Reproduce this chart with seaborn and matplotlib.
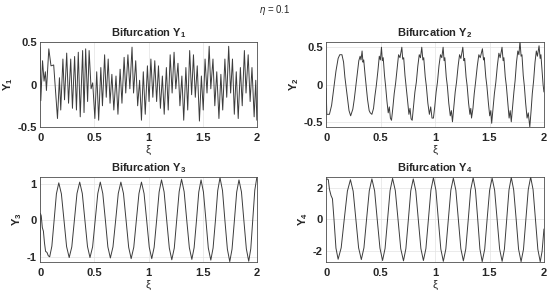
import pandas as pd
import seaborn as sns
import matplotlib.pyplot as plt

# values (extrema plus a few points in between)
xi_y1 = [0.000, 0.006, 0.022, 0.036, 0.048, 0.058, 0.080, 0.100, 0.125, 0.160,
         0.178, 0.190, 0.210, 0.225, 0.245, 0.262, 0.282, 0.298, 0.318, 0.335,
         0.352, 0.370, 0.392, 0.405, 0.420, 0.438, 0.452, 0.470, 0.485, 0.505,
         0.522, 0.540, 0.560, 0.575, 0.595, 0.610, 0.628, 0.645, 0.662, 0.680,
         0.700, 0.718, 0.738, 0.755, 0.775, 0.790, 0.810, 0.828, 0.848, 0.862,
         0.882, 0.900, 0.918, 0.935, 0.952, 0.970, 0.990, 1.005, 1.022, 1.040,
         1.058, 1.075, 1.092, 1.110, 1.128, 1.145, 1.165, 1.182, 1.200, 1.218,
         1.236, 1.252, 1.272, 1.290, 1.308, 1.325, 1.345, 1.362, 1.380, 1.398,
         1.415, 1.432, 1.450, 1.470, 1.488, 1.505, 1.522, 1.540, 1.560, 1.575,
         1.595, 1.612, 1.630, 1.650, 1.668, 1.685, 1.705, 1.722, 1.740, 1.758,
         1.775, 1.792, 1.810, 1.828, 1.848, 1.865, 1.885, 1.900, 1.920, 1.938,
         1.955, 1.975, 1.990, 2.000]
y1 = [0.44, -0.19, 0.28, 0.04, 0.15, -0.07, 0.42, 0.22, 0.23, -0.40,
      0.08, -0.30, 0.30, -0.18, 0.37, -0.22, 0.30, -0.28, 0.33, -0.30,
      0.38, -0.38, 0.40, -0.33, 0.42, -0.20, 0.40, -0.05, 0.02, -0.40,
      0.15, -0.42, 0.20, -0.25, 0.35, -0.15, 0.30, -0.22, 0.12, -0.30,
      0.10, -0.35, 0.18, -0.22, 0.32, -0.10, 0.35, -0.05, 0.44, -0.10,
      0.28, -0.25, 0.05, -0.42, 0.15, -0.35, 0.22, -0.20, 0.30, -0.15,
      0.28, -0.20, 0.22, -0.28, 0.10, -0.35, 0.20, -0.30, 0.35, -0.10,
      0.38, -0.05, 0.25, -0.25, 0.10, -0.42, 0.20, -0.30, 0.40, -0.12,
      0.35, -0.15, 0.22, -0.43, 0.10, -0.30, 0.30, -0.10, 0.45, -0.05,
      0.30, -0.25, 0.15, -0.40, 0.12, -0.30, 0.30, -0.15, 0.45, -0.10,
      0.30, -0.35, 0.15, -0.40, 0.20, -0.25, 0.40, -0.10, 0.35, -0.20,
      0.20, -0.38, 0.05, -0.42]

xi_y2 = [0.000, 0.006, 0.030, 0.050, 0.070, 0.090, 0.110, 0.125, 0.145, 0.160,
         0.172, 0.182, 0.195, 0.210, 0.225,
         0.245, 0.258, 0.270, 0.285, 0.300, 0.312, 0.320, 0.330, 0.338, 0.345,
         0.358, 0.368, 0.380, 0.395, 0.405, 0.420,
         0.435, 0.448, 0.460, 0.475, 0.488, 0.498, 0.508, 0.516, 0.524, 0.536,
         0.546, 0.558, 0.570, 0.580, 0.590, 0.600,
         0.612, 0.625, 0.638, 0.652, 0.665, 0.678, 0.695, 0.703, 0.712, 0.724,
         0.734, 0.748, 0.760, 0.770, 0.780, 0.790,
         0.802, 0.815, 0.828, 0.842, 0.855, 0.866, 0.878, 0.888, 0.896, 0.910,
         0.920, 0.934, 0.948, 0.960, 0.972, 0.985,
         0.997, 1.010, 1.022, 1.036, 1.050, 1.062, 1.074, 1.083, 1.090, 1.103,
         1.113, 1.126, 1.140, 1.150, 1.160,
         1.172, 1.185, 1.197, 1.212, 1.225, 1.237, 1.255, 1.265, 1.272, 1.285,
         1.295, 1.308, 1.320, 1.328, 1.335,
         1.348, 1.360, 1.372, 1.388, 1.402, 1.415, 1.435, 1.445, 1.452, 1.466,
         1.476, 1.490, 1.502, 1.512, 1.520,
         1.532, 1.545, 1.558, 1.572, 1.586, 1.598, 1.615, 1.625, 1.632, 1.645,
         1.655, 1.668, 1.680, 1.690, 1.700,
         1.712, 1.724, 1.735, 1.748, 1.760, 1.770, 1.780, 1.790, 1.798, 1.810,
         1.820, 1.832, 1.845, 1.856, 1.870,
         1.882, 1.893, 1.905, 1.918, 1.930, 1.940, 1.955, 1.965, 1.972, 1.985,
         1.992, 2.000]
y2 = [-0.05, -0.40, -0.40, -0.28, -0.05, 0.18, 0.35, 0.40, 0.40, 0.30,
      0.10, -0.02, -0.18, -0.35, -0.42,
      -0.33, -0.20, -0.05, 0.15, 0.32, 0.38, 0.33, 0.45, 0.30, 0.33,
      0.12, -0.02, -0.20, -0.35, -0.38, -0.40,
      -0.32, -0.15, -0.02, 0.18, 0.38, 0.33, 0.50, 0.32, 0.36, 0.12,
      -0.02, -0.22, -0.38, -0.30, -0.45, -0.48,
      -0.32, -0.12, 0.02, 0.22, 0.40, 0.36, 0.50, 0.34, 0.36, 0.12,
      -0.02, -0.22, -0.40, -0.32, -0.46, -0.48,
      -0.30, -0.10, 0.03, 0.25, 0.40, 0.36, 0.50, 0.33, 0.36, 0.10,
      -0.02, -0.25, -0.40, -0.30, -0.45, -0.45,
      -0.30, -0.10, 0.03, 0.25, 0.40, 0.36, 0.50, 0.32, 0.36, 0.10,
      -0.02, -0.25, -0.42, -0.35, -0.50,
      -0.30, -0.10, 0.03, 0.25, 0.40, 0.35, 0.50, 0.32, 0.35, 0.10,
      -0.02, -0.25, -0.40, -0.32, -0.45,
      -0.32, -0.12, 0.03, 0.25, 0.40, 0.36, 0.48, 0.33, 0.36, 0.10,
      -0.02, -0.25, -0.42, -0.35, -0.52,
      -0.32, -0.12, 0.03, 0.25, 0.42, 0.36, 0.50, 0.32, 0.36, 0.10,
      -0.02, -0.25, -0.45, -0.35, -0.50,
      -0.30, -0.10, 0.05, 0.30, 0.45, 0.40, 0.58, 0.38, 0.40, 0.12,
      -0.02, -0.25, -0.45, -0.38, -0.57,
      -0.35, -0.12, 0.05, 0.30, 0.45, 0.38, 0.52, 0.35, 0.40, 0.15,
      0.00, -0.10]

xi_y3 = [0.000, 0.003, 0.010, 0.020, 0.030, 0.040, 0.050, 0.063, 0.075, 0.088,
         0.108, 0.129, 0.150, 0.172, 0.196, 0.220, 0.244, 0.268, 0.292, 0.316,
         0.340, 0.365, 0.389, 0.413, 0.437, 0.460, 0.484, 0.508, 0.532, 0.555,
         0.578, 0.602, 0.625, 0.648, 0.672, 0.697, 0.721, 0.745, 0.769, 0.793,
         0.817, 0.840, 0.864, 0.888, 0.912, 0.935, 0.959, 0.983, 1.007, 1.030,
         1.052, 1.075, 1.098, 1.120, 1.144, 1.168, 1.192, 1.215, 1.238, 1.260,
         1.283, 1.305, 1.329, 1.353, 1.377, 1.400, 1.421, 1.443, 1.464, 1.485,
         1.507, 1.530, 1.552, 1.575, 1.596, 1.618, 1.639, 1.660, 1.683, 1.705,
         1.728, 1.750, 1.771, 1.793, 1.814, 1.835, 1.858, 1.880, 1.903, 1.925,
         1.944, 1.962, 1.981, 2.000]
y3 = [-0.95, 0.18, 0.12, -0.20, -0.30, -0.62, -0.85, -0.88, -0.97, -1.00,
      -0.71, 0.00, 0.72, 1.02, 0.72, 0.00, -0.72, -1.02, -0.73, 0.00,
      0.73, 1.04, 0.73, 0.00, -0.72, -1.02, -0.73, 0.00, 0.73, 1.04,
      0.73, 0.00, -0.73, -1.03, -0.73, 0.00, 0.73, 1.04, 0.73, 0.00,
      -0.74, -1.05, -0.74, 0.00, 0.73, 1.04, 0.73, 0.00, -0.74, -1.05,
      -0.74, 0.00, 0.77, 1.10, 0.77, 0.00, -0.76, -1.08, -0.76, 0.00,
      0.78, 1.12, 0.78, 0.00, -0.75, -1.07, -0.75, 0.00, 0.77, 1.10,
      0.77, 0.00, -0.76, -1.09, -0.76, 0.00, 0.81, 1.16, 0.81, 0.00,
      -0.79, -1.13, -0.79, 0.00, 0.77, 1.10, 0.77, 0.00, -0.78, -1.12,
      -0.78, 0.00, 0.82, 1.17]

xi_y4 = [0.000, 0.008, 0.020, 0.030, 0.045, 0.058, 0.072, 0.090, 0.110, 0.138,
         0.166, 0.195, 0.223, 0.248, 0.273, 0.298, 0.323, 0.347, 0.371, 0.396,
         0.420, 0.445, 0.469, 0.494, 0.518, 0.541, 0.564, 0.587, 0.610, 0.635,
         0.660, 0.685, 0.710, 0.732, 0.755, 0.777, 0.800, 0.823, 0.846, 0.870,
         0.893, 0.916, 0.939, 0.962, 0.985, 1.008, 1.030, 1.053, 1.076, 1.099,
         1.122, 1.145, 1.168, 1.191, 1.214, 1.237, 1.260, 1.282, 1.305, 1.327,
         1.350, 1.371, 1.392, 1.412, 1.433, 1.456, 1.478, 1.501, 1.524, 1.547,
         1.570, 1.593, 1.616, 1.637, 1.658, 1.679, 1.700, 1.722, 1.745, 1.767,
         1.790, 1.812, 1.834, 1.856, 1.878, 1.900, 1.922, 1.944, 1.966, 1.983,
         2.000]
y4 = [2.50, 2.55, 2.50, 1.90, 1.50, 1.30, 0.00, -1.80, -2.50, -1.78,
      0.00, 1.78, 2.50, 1.78, 0.00, -1.78, -2.52, -1.78, 0.00, 1.80,
      2.55, 1.80, 0.00, -1.80, -2.58, -1.82, 0.00, 1.82, 2.58, 1.82,
      0.00, -1.84, -2.60, -1.84, 0.00, 1.80, 2.55, 1.80, 0.00, -1.83,
      -2.58, -1.83, 0.00, 1.84, 2.62, 1.84, 0.00, -1.86, -2.63, -1.86,
      0.00, 1.84, 2.60, 1.84, 0.00, -1.84, -2.60, -1.86, 0.00, 1.85,
      2.62, 1.85, 0.00, -1.86, -2.65, -1.86, 0.00, 1.84, 2.60, 1.84,
      0.00, -1.86, -2.63, -1.86, 0.00, 1.86, 2.64, 1.86, 0.00, -1.87,
      -2.65, -1.88, 0.00, 1.88, 2.66, 1.88, 0.00, -1.88, -2.66, -2.00,
      -0.60]

panels = [
    (xi_y1, y1, 1, (-0.5, 0.5), [-0.5, 0, 0.5], ['-0.5', '0', '0.5']),
    (xi_y2, y2, 2, (-0.57, 0.57), [-0.5, 0, 0.5], ['-0.5', '0', '0.5']),
    (xi_y3, y3, 3, (-1.14, 1.18), [-1, 0, 1], ['-1', '0', '1']),
    (xi_y4, y4, 4, (-2.67, 2.67), [-2, 0, 2], ['-2', '0', '2']),
]
xticks = [0, 0.5, 1, 1.5, 2]
xticklabels = ['0', '0.5', '1', '1.5', '2']

sns.set_style('whitegrid')
plt.rcParams['font.family'] = ['Liberation Sans', 'DejaVu Sans']
plt.rcParams['mathtext.fontset'] = 'custom'
plt.rcParams['mathtext.rm'] = 'Liberation Sans'
plt.rcParams['mathtext.it'] = 'Liberation Sans:italic'
plt.rcParams['mathtext.bf'] = 'Liberation Sans:bold'

fig = plt.figure(figsize=(5.5, 2.94), dpi=100)
boxes = [[0.073, 0.568, 0.394, 0.289], [0.593, 0.568, 0.396, 0.289],
         [0.073, 0.109, 0.394, 0.289], [0.593, 0.109, 0.396, 0.289]]

for box, (xs, ys, k, lim, yt, ytl) in zip(boxes, panels):
    ax = fig.add_axes(box)
    df = pd.DataFrame({'xi': xs, 'y': ys})
    sns.lineplot(data=df, x='xi', y='y', ax=ax, estimator=None, sort=False,
                 color='#3c3c3c', linewidth=0.7)
    ax.set_xlim(0, 2)
    ax.set_ylim(*lim)
    ax.set_xticks(xticks)
    ax.set_xticklabels(xticklabels, fontsize=8, fontweight='bold')
    ax.set_yticks(yt)
    ax.set_yticklabels(ytl, fontsize=8, fontweight='bold')
    ax.tick_params(axis='x', direction='in', length=2, width=0.5, pad=4,
                   colors='#262626')
    ax.tick_params(axis='y', direction='in', length=2, width=0.5, pad=2.5,
                   colors='#262626')
    ax.grid(True, color='#e3e3e3', linewidth=0.5)
    for s in ax.spines.values():
        s.set_visible(True)
        s.set_color('#4d4d4d')
        s.set_linewidth(0.6)
    ax.set_title('Bifurcation Y$_{\\mathbf{%d}}$' % k, fontsize=8,
                 fontweight='bold', pad=4)
    ax.set_ylabel('Y$_{\\mathbf{%d}}$' % k, fontsize=8, fontweight='bold',
                  labelpad=2)
    ax.set_xlabel('\u03be', fontsize=8, labelpad=2)

fig.text(0.5, 0.965, '$\\eta$ = 0.1', ha='center', va='center', fontsize=7)

fig.savefig('out.png', dpi=100)
